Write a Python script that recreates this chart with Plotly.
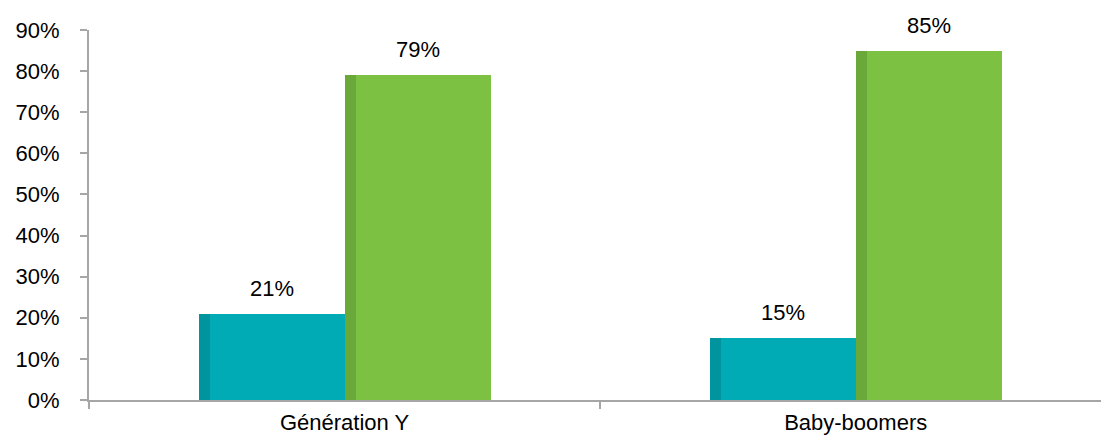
import plotly.graph_objects as go

# Survey shares by generation
categories = ["Génération Y", "Baby-boomers"]
series_a = [0.21, 0.15]   # teal bars
series_b = [0.79, 0.85]   # green bars
y_ticks = [0, 0.1, 0.2, 0.3, 0.4, 0.5, 0.6, 0.7, 0.8, 0.9]
y_tick_labels = ["0%", "10%", "20%", "30%", "40%", "50%", "60%", "70%", "80%", "90%"]

TEAL = "#00ABB6"
TEAL_DARK = "#00949E"
GREEN = "#7DC142"
GREEN_DARK = "#6BA83A"
AXIS = "#A6A6A6"
FONT = "Liberation Sans, Arial, sans-serif"
FSIZE = 22

BAR_W = 0.2857   # width of each bar in category units
EDGE_W = 0.0215  # darker left face of each bar

xpos = list(range(len(categories)))

fig = go.Figure()

def add_bar(values, offset, color, edge):
    fig.add_trace(go.Bar(x=xpos, y=values, width=BAR_W, offset=offset,
                         marker=dict(color=color, line=dict(width=0)),
                         hoverinfo="skip", showlegend=False))
    fig.add_trace(go.Bar(x=xpos, y=values, width=EDGE_W, offset=offset,
                         marker=dict(color=edge, line=dict(width=0)),
                         hoverinfo="skip", showlegend=False))

add_bar(series_a, -BAR_W, TEAL, TEAL_DARK)
add_bar(series_b, 0.0, GREEN, GREEN_DARK)

# Value labels above the bars
for i in xpos:
    for val, off in ((series_a[i], -BAR_W / 2), (series_b[i], BAR_W / 2)):
        fig.add_annotation(x=i + off, y=val, text=f"{round(val * 100)}%",
                           showarrow=False, yanchor="bottom", yshift=11,
                           font=dict(family=FONT, size=FSIZE, color="#000000"))

fig.update_layout(
    width=1101, height=446,
    margin=dict(l=89, r=0, t=30, b=46),
    paper_bgcolor="white", plot_bgcolor="white",
    barmode="overlay", bargap=0,
    font=dict(family=FONT, size=FSIZE, color="#000000"),
    xaxis=dict(range=[-0.5, 1.48], tickvals=xpos, ticktext=categories,
               ticks="", showgrid=False, zeroline=False,
               showline=True, linecolor=AXIS, linewidth=2,
               ticklabelstandoff=2,
               tickfont=dict(family=FONT, size=FSIZE, color="#000000")),
    yaxis=dict(range=[0, 0.9], tickvals=y_ticks, ticktext=y_tick_labels,
               ticks="outside", ticklen=7, tickwidth=2, tickcolor=AXIS,
               showgrid=False, zeroline=False,
               showline=True, linecolor=AXIS, linewidth=2,
               ticklabelstandoff=16,
               tickfont=dict(family=FONT, size=FSIZE, color="#000000")),
)
fig.update_xaxes(minor=dict(tickvals=[-0.5, 0.5], ticks="outside", ticklen=7,
                            tickwidth=2, tickcolor=AXIS, showgrid=False))

fig.write_html("out.html")
